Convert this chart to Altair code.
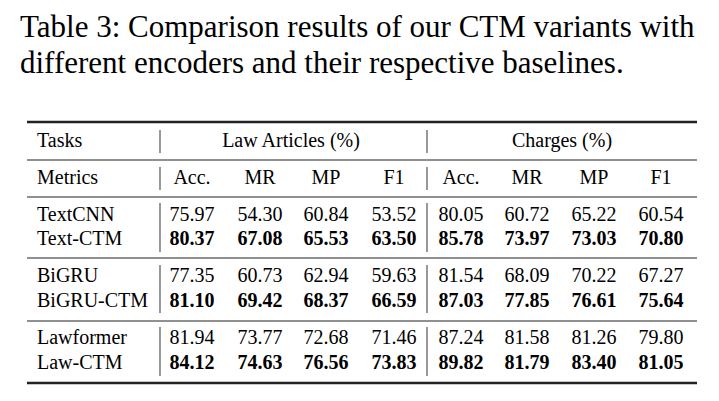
import altair as alt
import pandas as pd

# ---------------- data ----------------
title_lines = ["Table 3: Comparison results of our CTM variants with",
               "different encoders and their respective baselines."]
tasks = ["Law Articles (%)", "Charges (%)"]
metrics = ["Acc.", "MR", "MP", "F1"]
models = ["TextCNN", "Text-CTM", "BiGRU", "BiGRU-CTM", "Lawformer", "Law-CTM"]
is_ctm = [False, True, False, True, False, True]
law_acc = [75.97, 80.37, 77.35, 81.10, 81.94, 84.12]
law_mr = [54.30, 67.08, 60.73, 69.42, 73.77, 74.63]
law_mp = [60.84, 65.53, 62.94, 68.37, 72.68, 76.56]
law_f1 = [53.52, 63.50, 59.63, 66.59, 71.46, 73.83]
chg_acc = [80.05, 85.78, 81.54, 87.03, 87.24, 89.82]
chg_mr = [60.72, 73.97, 68.09, 77.85, 81.58, 81.79]
chg_mp = [65.22, 73.03, 70.22, 76.61, 81.26, 83.40]
chg_f1 = [60.54, 70.80, 67.27, 75.64, 79.80, 81.05]

# ---------------- layout ----------------
W, H = 703, 385
OFF = 8
col_x = [v - OFF for v in [192, 260, 326, 394, 461, 527, 594, 661]]
label_x = 37 - OFF
task_x = [291 - OFF, 562 - OFF]
row_header_y = 147 - OFF
row_metric_y = 184 - OFF
model_y = [v - OFF for v in [221, 245, 282, 307, 344, 369]]
title_x = 20 - OFF
title_y = [37 - OFF, 73 - OFF]
rule_x0, rule_x1 = 27 - OFF, 697 - OFF
thick_y = [122 - OFF, 383 - OFF]
thin_y = [v - OFF for v in [160, 197, 258, 321]]
vline_x = [160 - OFF, 427 - OFF]
vseg = [(130, 153), (167, 190), (203, 252), (265, 313), (327, 376)]

FONT = "Liberation Serif"
xs = alt.Scale(domain=[0, W], range=[0, W], nice=False, zero=False)
ys = alt.Scale(domain=[0, H], range=[0, H], nice=False, zero=False)

# cells
value_cols = [law_acc, law_mr, law_mp, law_f1, chg_acc, chg_mr, chg_mp, chg_f1]
cells = []
for r, m in enumerate(models):
    for c, col in enumerate(value_cols):
        cells.append({"x": col_x[c], "y": model_y[r], "t": f"{col[r]:.2f}", "bold": is_ctm[r]})
cells_df = pd.DataFrame(cells)

labels = [{"x": label_x, "y": row_header_y, "t": "Tasks"},
          {"x": label_x, "y": row_metric_y, "t": "Metrics"}]
labels += [{"x": label_x, "y": model_y[r], "t": m} for r, m in enumerate(models)]
labels_df = pd.DataFrame(labels)

heads = [{"x": task_x[i], "y": row_header_y, "t": t} for i, t in enumerate(tasks)]
heads += [{"x": col_x[c], "y": row_metric_y, "t": metrics[c % 4]} for c in range(8)]
heads_df = pd.DataFrame(heads)

title_df = pd.DataFrame([{"x": title_x, "y": title_y[i], "t": t} for i, t in enumerate(title_lines)])

hrules = [{"x": rule_x0, "x2": rule_x1, "y": y, "w": 2.4} for y in thick_y]
hrules += [{"x": rule_x0, "x2": rule_x1, "y": y, "w": 1.1} for y in thin_y]
hrules_df = pd.DataFrame(hrules)

vrules = [{"x": vx, "y": a - OFF, "y2": b - OFF} for vx in vline_x for (a, b) in vseg]
vrules_df = pd.DataFrame(vrules)

base_enc = dict(x=alt.X("x:Q", scale=xs, axis=None), y=alt.Y("y:Q", scale=ys, axis=None))

title_layer = alt.Chart(title_df).mark_text(
    font=FONT, fontSize=31, align="left", baseline="alphabetic", color="#000"
).encode(text="t:N", **base_enc)

label_layer = alt.Chart(labels_df).mark_text(
    font=FONT, fontSize=20, align="left", baseline="alphabetic", color="#000"
).encode(text="t:N", **base_enc)

head_layer = alt.Chart(heads_df).mark_text(
    font=FONT, fontSize=20, align="center", baseline="alphabetic", color="#000"
).encode(text="t:N", **base_enc)

normal_layer = alt.Chart(cells_df[~cells_df.bold]).mark_text(
    font=FONT, fontSize=20, align="center", baseline="alphabetic", color="#000"
).encode(text="t:N", **base_enc)

bold_layer = alt.Chart(cells_df[cells_df.bold]).mark_text(
    font=FONT, fontSize=20, fontWeight="bold", align="center", baseline="alphabetic", color="#000"
).encode(text="t:N", **base_enc)

hrule_layer = alt.Chart(hrules_df).mark_rule(color="#222").encode(
    x=alt.X("x:Q", scale=xs, axis=None), x2="x2:Q",
    y=alt.Y("y:Q", scale=ys, axis=None),
    strokeWidth=alt.StrokeWidth("w:Q", scale=None),
)

vrule_layer = alt.Chart(vrules_df).mark_rule(color="#444", strokeWidth=1.1).encode(
    x=alt.X("x:Q", scale=xs, axis=None),
    y=alt.Y("y:Q", scale=ys, axis=None), y2="y2:Q",
)

chart = alt.layer(
    hrule_layer, vrule_layer, title_layer, label_layer, head_layer, normal_layer, bold_layer
).properties(
    width=W, height=H, padding=0, autosize=alt.AutoSizeParams(type="none")
).configure_view(stroke=None)

chart.save("out.html", embed_options={"renderer": "svg", "actions": False})
